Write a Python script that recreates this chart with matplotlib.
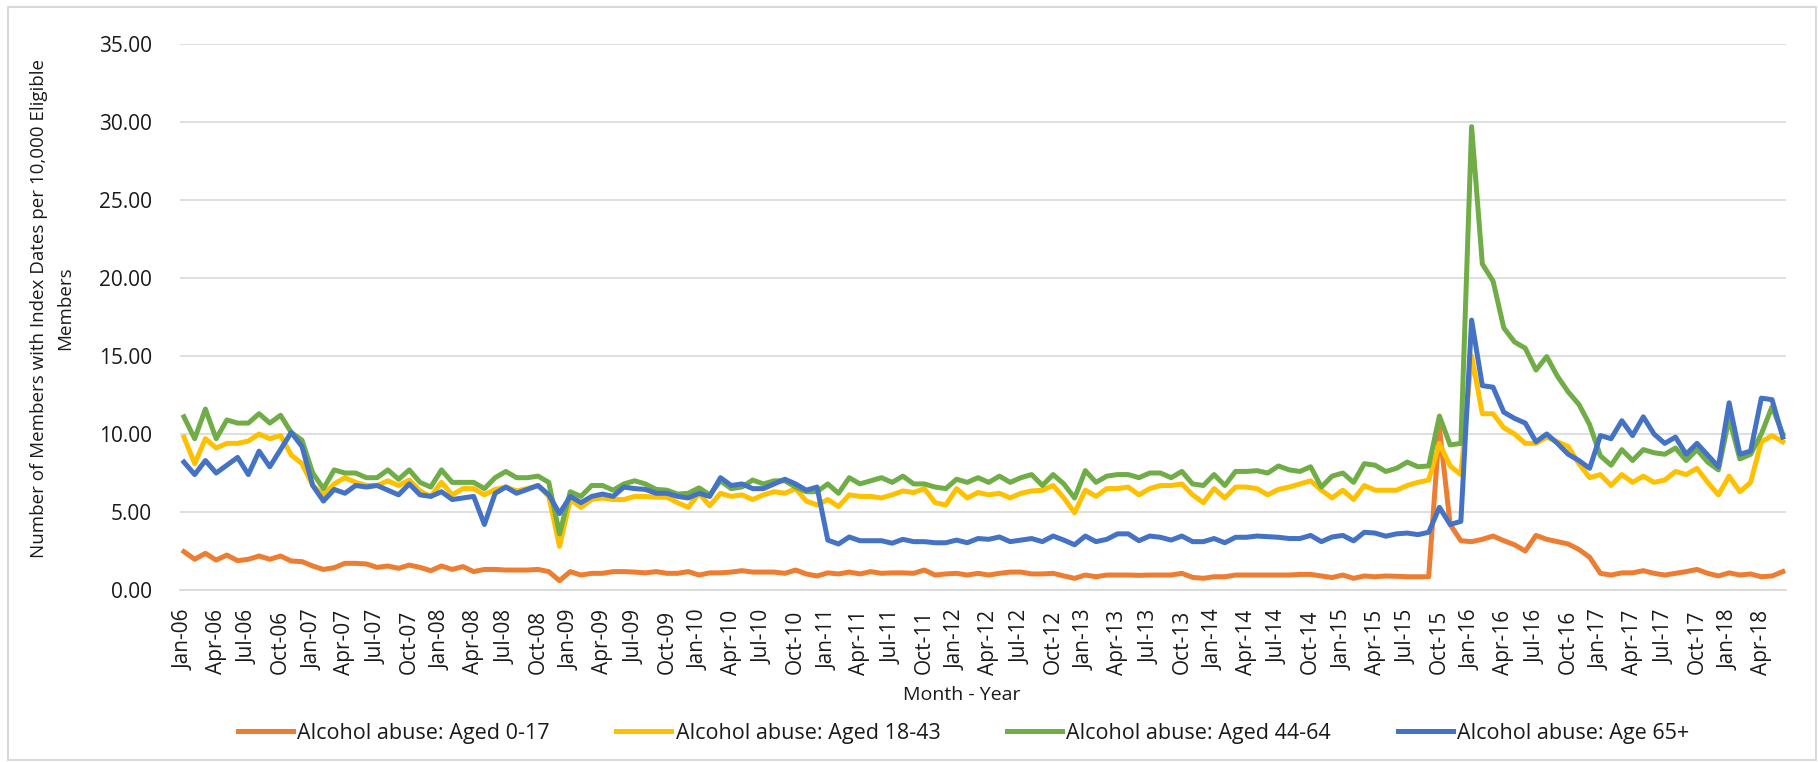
import matplotlib
matplotlib.use("Agg")
import matplotlib.pyplot as plt
from matplotlib.patches import Rectangle

# monthly values Jan-06 .. Jun-18
months = ["Jan", "Feb", "Mar", "Apr", "May", "Jun", "Jul", "Aug", "Sep", "Oct", "Nov", "Dec"]
labels = [f"{m}-{y:02d}" for y in range(6, 19) for m in months][:150]

aged_0_17 = [
    2.46, 1.97, 2.35, 1.92, 2.24, 1.88, 1.97, 2.18, 1.97, 2.18, 1.86, 1.82,
    1.54, 1.32, 1.43, 1.71, 1.71, 1.67, 1.45, 1.54, 1.39, 1.60, 1.45, 1.24,
    1.54, 1.32, 1.50, 1.18, 1.32, 1.32, 1.28, 1.28, 1.28, 1.32, 1.18, 0.60,
    1.18, 0.96, 1.07, 1.07, 1.18, 1.18, 1.15, 1.10, 1.18, 1.07, 1.07, 1.18,
    0.96, 1.10, 1.10, 1.15, 1.24, 1.15, 1.15, 1.15, 1.07, 1.28, 1.03, 0.90,
    1.10, 1.03, 1.15, 1.03, 1.18, 1.07, 1.10, 1.10, 1.07, 1.28, 0.96, 1.03,
    1.07, 0.96, 1.07, 0.96, 1.07, 1.15, 1.15, 1.03, 1.03, 1.07, 0.90, 0.75,
    0.96, 0.85, 0.96, 0.96, 0.96, 0.94, 0.96, 0.96, 0.96, 1.07, 0.81, 0.75,
    0.85, 0.85, 0.96, 0.96, 0.96, 0.96, 0.96, 0.96, 1.00, 1.00, 0.90, 0.80,
    0.96, 0.75, 0.90, 0.85, 0.90, 0.88, 0.85, 0.85, 0.85, 10.40, 4.20, 3.16,
    3.10, 3.25, 3.46, 3.16, 2.90, 2.50, 3.50, 3.25, 3.10, 2.95, 2.60, 2.10,
    1.07, 0.96, 1.10, 1.10, 1.24, 1.07, 0.96, 1.07, 1.18, 1.32, 1.07, 0.90,
    1.10, 0.96, 1.03, 0.85, 0.90, 1.18,
]
aged_18_43 = [
    9.80, 8.10, 9.70, 9.10, 9.40, 9.40, 9.55, 10.00, 9.70, 9.90, 8.65, 8.10,
    6.70, 6.10, 6.80, 7.20, 6.90, 6.70, 6.70, 7.00, 6.70, 7.05, 6.35, 6.00,
    6.90, 6.10, 6.50, 6.50, 6.10, 6.45, 6.60, 6.35, 6.50, 6.70, 6.00, 2.80,
    5.80, 5.30, 5.80, 5.90, 5.80, 5.80, 6.00, 6.00, 5.95, 5.95, 5.60, 5.30,
    6.20, 5.40, 6.20, 6.00, 6.10, 5.80, 6.10, 6.30, 6.20, 6.50, 5.70, 5.45,
    5.80, 5.35, 6.10, 6.00, 6.00, 5.90, 6.10, 6.35, 6.25, 6.50, 5.60, 5.45,
    6.50, 5.90, 6.25, 6.10, 6.20, 5.90, 6.20, 6.35, 6.40, 6.70, 5.90, 4.95,
    6.40, 6.00, 6.50, 6.50, 6.60, 6.10, 6.50, 6.70, 6.70, 6.80, 6.10, 5.60,
    6.50, 5.90, 6.60, 6.60, 6.50, 6.10, 6.45, 6.60, 6.80, 7.00, 6.40, 5.90,
    6.40, 5.80, 6.70, 6.40, 6.40, 6.40, 6.70, 6.90, 7.05, 9.40, 7.95, 7.40,
    15.00, 11.30, 11.30, 10.40, 10.00, 9.40, 9.40, 9.80, 9.50, 9.20, 8.10, 7.20,
    7.40, 6.70, 7.40, 6.90, 7.30, 6.90, 7.05, 7.60, 7.40, 7.80, 6.90, 6.10,
    7.30, 6.30, 6.90, 9.50, 9.90, 9.50,
]
aged_44_64 = [
    11.10, 9.70, 11.60, 9.70, 10.90, 10.70, 10.70, 11.30, 10.70, 11.20, 10.10, 9.60,
    7.50, 6.50, 7.70, 7.50, 7.50, 7.20, 7.20, 7.70, 7.10, 7.70, 6.90, 6.60,
    7.70, 6.90, 6.90, 6.90, 6.50, 7.20, 7.60, 7.20, 7.20, 7.30, 6.90, 3.60,
    6.30, 6.00, 6.70, 6.70, 6.40, 6.80, 7.00, 6.80, 6.45, 6.40, 6.15, 6.20,
    6.55, 6.10, 7.00, 6.50, 6.60, 7.05, 6.80, 7.00, 7.00, 6.60, 6.30, 6.30,
    6.80, 6.20, 7.20, 6.80, 7.00, 7.20, 6.90, 7.30, 6.80, 6.80, 6.60, 6.50,
    7.10, 6.90, 7.20, 6.90, 7.30, 6.90, 7.20, 7.40, 6.70, 7.40, 6.80, 5.90,
    7.65, 6.90, 7.30, 7.40, 7.40, 7.20, 7.50, 7.50, 7.20, 7.60, 6.80, 6.70,
    7.40, 6.70, 7.60, 7.60, 7.65, 7.50, 7.95, 7.70, 7.60, 7.90, 6.60, 7.30,
    7.50, 6.90, 8.10, 8.00, 7.60, 7.80, 8.20, 7.90, 7.95, 11.15, 9.30, 9.40,
    29.70, 20.90, 19.80, 16.80, 15.90, 15.50, 14.10, 14.96, 13.70, 12.70, 11.90, 10.60,
    8.60, 8.00, 9.00, 8.30, 9.00, 8.80, 8.70, 9.10, 8.30, 9.00, 8.20, 7.70,
    11.00, 8.40, 8.70, 10.00, 11.75, 10.00,
]
age_65_plus = [
    8.20, 7.40, 8.30, 7.50, 8.00, 8.50, 7.40, 8.90, 7.90, 9.00, 10.10, 9.20,
    6.70, 5.70, 6.45, 6.20, 6.70, 6.60, 6.70, 6.40, 6.10, 6.80, 6.10, 6.00,
    6.30, 5.80, 5.90, 6.00, 4.20, 6.20, 6.60, 6.20, 6.45, 6.70, 6.10, 4.90,
    6.00, 5.60, 6.00, 6.15, 6.00, 6.60, 6.50, 6.45, 6.20, 6.20, 6.00, 5.90,
    6.20, 6.00, 7.20, 6.70, 6.80, 6.50, 6.50, 6.80, 7.10, 6.80, 6.40, 6.60,
    3.20, 2.95, 3.40, 3.16, 3.16, 3.16, 3.00, 3.25, 3.10, 3.10, 3.03, 3.03,
    3.20, 3.03, 3.30, 3.25, 3.40, 3.10, 3.20, 3.30, 3.10, 3.46, 3.20, 2.90,
    3.46, 3.10, 3.25, 3.60, 3.60, 3.16, 3.46, 3.38, 3.20, 3.46, 3.10, 3.10,
    3.30, 3.03, 3.38, 3.38, 3.46, 3.42, 3.38, 3.30, 3.30, 3.50, 3.10, 3.40,
    3.50, 3.15, 3.70, 3.65, 3.45, 3.60, 3.65, 3.55, 3.70, 5.30, 4.20, 4.40,
    17.30, 13.10, 13.00, 11.40, 11.00, 10.70, 9.50, 10.00, 9.40, 8.70, 8.30, 7.80,
    9.90, 9.70, 10.85, 9.90, 11.10, 10.00, 9.40, 9.80, 8.70, 9.40, 8.65, 7.90,
    12.00, 8.70, 8.90, 12.30, 12.20, 9.80,
]

series = [
    ("Alcohol abuse: Aged 0-17", aged_0_17, "#ED7D31"),
    ("Alcohol abuse: Aged 18-43", aged_18_43, "#FFC000"),
    ("Alcohol abuse: Aged 44-64", aged_44_64, "#70AD47"),
    ("Alcohol abuse: Age 65+", age_65_plus, "#4472C4"),
]

plt.rcParams['font.family'] = ['Open Sans', 'DejaVu Sans']
txt = '#1a1a1a'

fig = plt.figure(figsize=(18.18, 7.62), dpi=100)
ax = fig.add_axes([0.099, 0.2257, 0.8834, 0.7166])

x = list(range(len(labels)))
for name, vals, col in series:
    ax.plot(x, vals, color=col, lw=3.6, label=name, solid_joinstyle='round')

ax.set_ylim(0, 35)
ax.set_yticks([0, 5, 10, 15, 20, 25, 30, 35])
ax.set_yticklabels([f"{v:.2f}" for v in range(0, 36, 5)], fontsize=15, color=txt)
ax.set_xlim(-0.37, 149.3)
ax.set_xticks(x[::3])
ax.set_xticklabels(labels[::3], rotation=90, fontsize=15, color=txt)
ax.tick_params(axis='y', length=0, pad=20)
ax.tick_params(axis='x', length=0, pad=14)

ax.grid(axis='y', color='#D9D9D9', lw=1.2)
ax.set_axisbelow(True)
for s in ['top', 'right', 'left']:
    ax.spines[s].set_visible(False)
ax.spines['bottom'].set_color('#D9D9D9')
ax.spines['bottom'].set_linewidth(1.2)

ax.set_ylabel("Number of Members with Index Dates per 10,000 Eligible\nMembers",
              fontsize=13.5, color=txt, linespacing=1.6)
ax.yaxis.set_label_coords(-0.066, 0.516)
ax.set_xlabel("Month - Year", fontsize=14, color=txt)
ax.xaxis.set_label_coords(0.487, -0.176)

fig.legend(loc='center', bbox_to_anchor=(0.53, 0.038), ncol=4, frameon=False,
           fontsize=15.5, handlelength=2.55, handletextpad=0.2, columnspacing=3.1,
           labelcolor=txt)

fig.patches.append(Rectangle((0.0044, 0.002), 0.9945, 0.9888, transform=fig.transFigure,
                             fill=False, edgecolor='#D9D9D9', lw=1.5))

fig.savefig("out.png", dpi=100)
